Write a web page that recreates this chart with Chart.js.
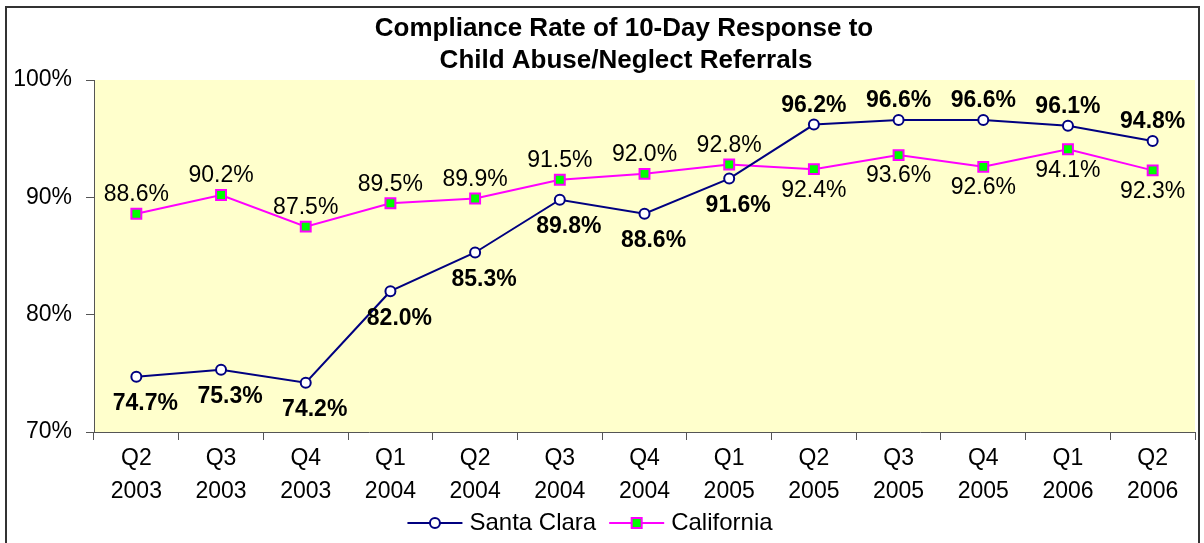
<!DOCTYPE html>
<html>
<head>
<meta charset="utf-8">
<script src="https://cdn.jsdelivr.net/npm/chart.js@4/dist/chart.umd.min.js"></script>
<style>
  html, body { margin: 0; padding: 0; background: #ffffff; }
  canvas { display: block; }
</style>
</head>
<body>
<canvas id="c" width="1204" height="543"></canvas>
<script>
// ---- data ----
const titleLines = ['Compliance Rate of 10-Day Response to', 'Child Abuse/Neglect Referrals'];
const quarters = ['Q2','Q3','Q4','Q1','Q2','Q3','Q4','Q1','Q2','Q3','Q4','Q1','Q2'];
const years = ['2003','2003','2003','2004','2004','2004','2004','2005','2005','2005','2005','2006','2006'];
const seriesNames = ['Santa Clara', 'California'];
const santaClara = [74.7, 75.3, 74.2, 82.0, 85.3, 89.8, 88.6, 91.6, 96.2, 96.6, 96.6, 96.1, 94.8];
const california = [88.6, 90.2, 87.5, 89.5, 89.9, 91.5, 92.0, 92.8, 92.4, 93.6, 92.6, 94.1, 92.3];
const yTickValues = [70, 80, 90, 100];

const FONT = '"Liberation Sans", Arial, sans-serif';
const categories = quarters.map((q, i) => [q, years[i]]);

const bgPlugin = {
  id: 'bgPlugin',
  beforeDraw(chart) {
    const { ctx, chartArea: a } = chart;
    ctx.save();
    ctx.fillStyle = '#FFFFCC';
    ctx.fillRect(a.left, a.top, a.right - a.left, a.bottom - a.top);
    ctx.restore();
  },
  afterDraw(chart) {
    const ctx = chart.ctx;
    ctx.save();
    // outer border
    ctx.strokeStyle = '#333333';
    ctx.lineWidth = 2;
    ctx.strokeRect(6, 7, 1193, 600);
    // title
    ctx.fillStyle = '#000';
    ctx.font = 'bold 26px ' + FONT;
    ctx.textAlign = 'center';
    ctx.textBaseline = 'middle';
    ctx.fillText(titleLines[0], 624, 29);
    ctx.fillText(titleLines[1], 626, 61);
    // legend
    ctx.font = '24px ' + FONT;
    const lineW = 55, gapText = 7, gapItem = 13;
    const widths = seriesNames.map(n => ctx.measureText(n).width);
    let total = 0;
    widths.forEach((w, i) => { total += lineW + gapText + w + (i < widths.length - 1 ? gapItem : 0); });
    let x = 590 - total / 2;
    const y = 523;
    chart.data.datasets.forEach((ds, i) => {
      ctx.strokeStyle = ds.borderColor;
      ctx.lineWidth = ds.borderWidth;
      ctx.beginPath();
      ctx.moveTo(x, y);
      ctx.lineTo(x + lineW, y);
      ctx.stroke();
      const cx = x + lineW / 2;
      ctx.fillStyle = ds.pointBackgroundColor;
      ctx.strokeStyle = ds.pointBorderColor;
      ctx.lineWidth = ds.pointBorderWidth;
      ctx.beginPath();
      if (ds.pointStyle === 'rect') {
        ctx.rect(cx - 5, y - 5, 10, 10);
      } else {
        ctx.arc(cx, y, 5, 0, Math.PI * 2);
      }
      ctx.fill();
      ctx.stroke();
      ctx.fillStyle = '#000';
      ctx.textAlign = 'left';
      ctx.textBaseline = 'middle';
      ctx.fillText(seriesNames[i], x + lineW + gapText, y);
      x += lineW + gapText + widths[i] + gapItem;
    });
    ctx.restore();
  }
};

const labelPlugin = {
  id: 'labelPlugin',
  afterDatasetsDraw(chart) {
    const ctx = chart.ctx;
    const sets = chart.data.datasets;
    ctx.save();
    ctx.textAlign = 'center';
    ctx.textBaseline = 'middle';
    ctx.fillStyle = '#000';
    sets.forEach((ds, di) => {
      const meta = chart.getDatasetMeta(di);
      const other = sets[1 - di].data;
      ctx.font = (di === 0 ? 'bold ' : '') + '23px ' + FONT;
      meta.data.forEach((pt, j) => {
        const v = ds.data[j];
        const above = v >= other[j];
        let dy, dx = 0;
        if (above) { dy = -19; }
        else { dy = di === 0 ? 27 : 21; dx = di === 0 ? 9 : 0; }
        ctx.fillText(v.toFixed(1) + '%', pt.x + dx, pt.y + dy);
      });
    });
    ctx.restore();
  }
};

new Chart(document.getElementById('c'), {
  type: 'line',
  data: {
    labels: categories,
    datasets: [
      {
        label: seriesNames[0],
        data: santaClara,
        borderColor: '#000080',
        borderWidth: 2,
        pointStyle: 'circle',
        pointRadius: 5,
        pointHoverRadius: 5,
        pointBackgroundColor: '#FFFFFF',
        pointBorderColor: '#000080',
        pointBorderWidth: 2,
        tension: 0,
        fill: false
      },
      {
        label: seriesNames[1],
        data: california,
        borderColor: '#FF00FF',
        borderWidth: 2,
        pointStyle: 'rect',
        pointRadius: 7,
        pointHoverRadius: 7,
        pointBackgroundColor: '#00FF00',
        pointBorderColor: '#FF00FF',
        pointBorderWidth: 2,
        tension: 0,
        fill: false
      }
    ]
  },
  options: {
    responsive: false,
    animation: false,
    events: [],
    layout: { padding: { left: 5, top: 80, right: 6, bottom: 0 } },
    plugins: {
      legend: { display: false },
      title: { display: false },
      tooltip: { enabled: false }
    },
    scales: {
      x: {
        type: 'category',
        offset: true,
        grid: { display: true, offset: true, drawOnChartArea: false, drawTicks: true, tickLength: 8, color: '#555555', lineWidth: 1 },
        border: { display: true, color: '#555555', width: 1 },
        ticks: {
          color: '#000',
          font: { family: FONT, size: 23, lineHeight: 1.43 },
          padding: 2,
          maxRotation: 0,
          autoSkip: false
        },
        afterFit(scale) { scale.height = 111; }
      },
      y: {
        min: 70,
        max: 100,
        afterBuildTicks(scale) { scale.ticks = yTickValues.map(v => ({ value: v })); },
        grid: { display: true, drawOnChartArea: false, drawTicks: true, tickLength: 8, color: '#555555', lineWidth: 1 },
        border: { display: true, color: '#555555', width: 1 },
        ticks: {
          color: '#000',
          font: { family: FONT, size: 23 },
          padding: 14,
          callback: v => v + '%'
        },
        afterFit(scale) { scale.width = 89; }
      }
    }
  },
  plugins: [bgPlugin, labelPlugin]
});
</script>
</body>
</html>
